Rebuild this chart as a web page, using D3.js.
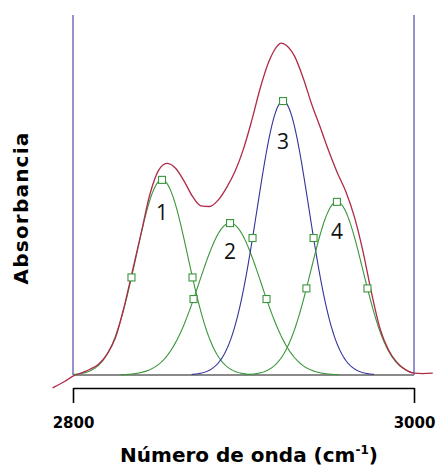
<!DOCTYPE html>
<html>
<head>
<meta charset="utf-8">
<script src="https://cdn.jsdelivr.net/npm/d3@7"></script>
<style>
  html, body { margin: 0; padding: 0; background: #fff; }
  svg { display: block; }
</style>
</head>
<body>
<svg id="chart" width="437" height="466"></svg>
<script>
// Fitted band components (Gaussian): centre (cm-1), height (absorbance), half width at half maximum (cm-1)
const bandNames   = ["1", "2", "3", "4"];
const bandCenters = [2852.2, 2892.1, 2923.2, 2954.8];
const bandHeights = [0.542, 0.422, 0.761, 0.481];
const bandHWHM    = [17.9, 21.4, 17.9, 17.9];
const bandKinds   = ["ch", "ch", "main", "ch"];

// Measured spectrum (envelope)
const specWavenumber = [2788, 2790, 2795, 2800, 2805, 2810, 2815, 2820, 2825, 2830,
  2835, 2840, 2845, 2850, 2855, 2860, 2865, 2870, 2875, 2880,
  2885, 2890, 2895, 2900, 2905, 2910, 2915, 2920, 2922, 2925,
  2930, 2935, 2940, 2945, 2950, 2955, 2960, 2965, 2970, 2975,
  2980, 2985, 2990, 2995, 3000, 3005, 3011];
const specAbsorbance = [-0.036, -0.031, -0.018, -0.003, 0.006, 0.016, 0.030, 0.058, 0.105, 0.190,
  0.292, 0.395, 0.500, 0.567, 0.588, 0.575, 0.540, 0.497, 0.470, 0.468,
  0.485, 0.520, 0.565, 0.628, 0.710, 0.800, 0.872, 0.915, 0.922, 0.916,
  0.885, 0.825, 0.752, 0.688, 0.622, 0.562, 0.510, 0.440, 0.345, 0.230,
  0.130, 0.070, 0.035, 0.015, 0.005, 0.004, 0.005];

const xTicks = [2800, 3000];
const xTitle = "Número de onda (cm";
const yTitle = "Absorbancia";

// Layout
const svg = d3.select("#chart");
const x = d3.scaleLinear().domain([2800, 3000]).range([73, 414]);
const y = d3.scaleLinear().domain([0, 1]).range([375, 15]);
const axisY = 388;
const labelDy = [40, 36, 48, 37];

const colors = { ch: "#3a963a", main: "#33339c", env: "#b02a48", frame: "#7a78c2", base: "#8a8a8a" };

const gauss = (c, h, w) => v => h * Math.exp(-Math.LN2 * ((v - c) / w) ** 2);

// Frame: vertical limits and zero baseline
svg.append("g").selectAll("line").data(x.domain()).join("line")
  .attr("x1", d => x(d)).attr("x2", d => x(d))
  .attr("y1", y(1)).attr("y2", y(0))
  .attr("stroke", colors.frame).attr("stroke-width", 1.6);

svg.append("line")
  .attr("x1", x(2800)).attr("x2", x(3000))
  .attr("y1", y(0)).attr("y2", y(0))
  .attr("stroke", colors.base).attr("stroke-width", 2);

// Component bands
const line = d3.line().x(d => x(d[0])).y(d => y(d[1]));
const bands = bandCenters.map((c, i) => {
  const f = gauss(c, bandHeights[i], bandHWHM[i]);
  const lo = Math.max(2800, c - 3 * bandHWHM[i]);
  const hi = Math.min(3000, c + 3 * bandHWHM[i]);
  const pts = d3.range(lo, hi + 0.01, 0.5).map(v => [v, f(v)]);
  return { i, c, f, pts, kind: bandKinds[i] };
});

svg.append("g").selectAll("path").data(bands).join("path")
  .attr("d", d => line(d.pts))
  .attr("fill", "none")
  .attr("stroke", d => colors[d.kind])
  .attr("stroke-width", 1.1);

// Envelope
svg.append("path")
  .datum(specWavenumber.map((v, i) => [v, specAbsorbance[i]]))
  .attr("d", d3.line().x(d => x(d[0])).y(d => y(d[1])).curve(d3.curveMonotoneX))
  .attr("fill", "none")
  .attr("stroke", colors.env)
  .attr("stroke-width", 1.3);

// Markers: peak and half-maximum points
const markers = [];
bands.forEach(b => {
  const w = bandHWHM[b.i];
  [b.c - w, b.c, b.c + w].forEach(v => markers.push([v, b.f(v)]));
});
svg.append("g").selectAll("rect").data(markers).join("rect")
  .attr("x", d => x(d[0]) - 3.5).attr("y", d => y(d[1]) - 3.5)
  .attr("width", 7).attr("height", 7)
  .attr("fill", "white").attr("stroke", colors.ch).attr("stroke-width", 1.1);

// Band numbers
svg.append("g").selectAll("text").data(bands).join("text")
  .attr("x", d => x(d.c))
  .attr("y", d => y(bandHeights[d.i]) + labelDy[d.i])
  .attr("text-anchor", "middle")
  .attr("font-family", "'Open Sans', sans-serif")
  .attr("font-size", 21)
  .attr("fill", "#111")
  .text(d => bandNames[d.i]);

// X axis
const xAxis = d3.axisBottom(x).tickValues(xTicks).tickSize(15).tickSizeOuter(0).tickPadding(14).tickFormat(d3.format("d"));
const gx = svg.append("g").attr("transform", `translate(0,${axisY})`).call(xAxis);
gx.select(".domain").attr("stroke", "#000").attr("stroke-width", 1.6);
gx.selectAll(".tick line").attr("stroke", "#000").attr("stroke-width", 1.6);
gx.selectAll(".tick text")
  .attr("font-family", "'DejaVu Sans', Verdana, sans-serif")
  .attr("font-weight", "bold").attr("font-size", 15).attr("fill", "#000");

// Axis titles
const xt = svg.append("text")
  .attr("x", 249).attr("y", 462)
  .attr("text-anchor", "middle")
  .attr("font-family", "'DejaVu Sans', Verdana, sans-serif")
  .attr("font-weight", "bold").attr("font-size", 20).attr("fill", "#000");
xt.append("tspan").text(xTitle);
xt.append("tspan").attr("dy", -8).attr("font-size", 12).text("-1");
xt.append("tspan").attr("dy", 8).text(")");

svg.append("text")
  .attr("transform", "translate(28,208) rotate(-90)")
  .attr("text-anchor", "middle")
  .attr("font-family", "'DejaVu Sans', Verdana, sans-serif")
  .attr("font-weight", "bold").attr("font-size", 20)
  .attr("letter-spacing", 1.2).attr("fill", "#000")
  .text(yTitle);
</script>
</body>
</html>
